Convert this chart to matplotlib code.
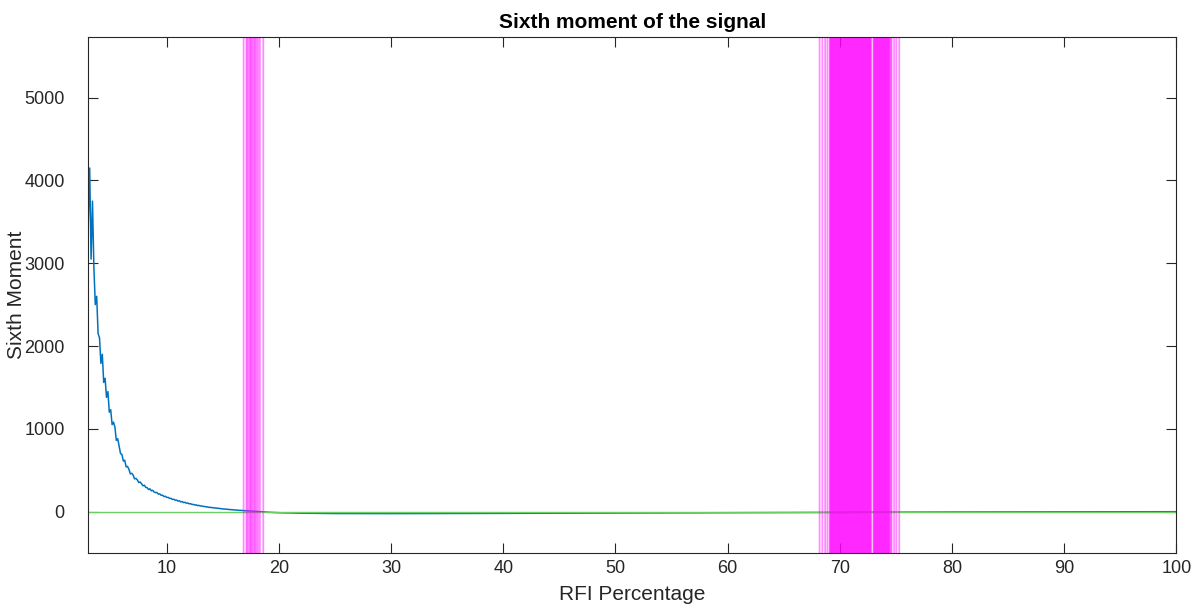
import numpy as np
import matplotlib
matplotlib.use("Agg")
import matplotlib.pyplot as plt

plt.rcParams['font.family'] = ['Liberation Sans', 'DejaVu Sans']

# RFI percentage grid for the steep part of the curve (step 0.125)
rfi_head = np.arange(3.0, 18.0001, 0.125)
moment_head = [
    3500, 4150, 3050, 3750, 2950, 2500, 2600, 2150, 2100, 1790,
    1900, 1560, 1610, 1380, 1450, 1200, 1230, 1050, 1080, 1020,
    860, 880, 790, 700, 690, 610, 620, 540, 545, 510,
    455, 462, 440, 395, 400, 382, 350, 358, 336, 311,
    318, 292, 288, 266, 274, 250, 256, 236, 229, 230,
    210, 213, 196, 198, 181, 184, 170, 171, 158, 160,
    146, 149, 137, 138, 126, 130, 116, 121, 108, 112,
    100, 104, 93, 95, 85, 87, 78, 81, 72, 74,
    67, 68, 61, 62, 55, 57, 50, 52, 46, 48,
    42, 44, 38, 40, 35, 35, 31, 31, 28, 28,
    25, 25, 22, 22, 19, 19, 17, 16, 14, 14,
    12, 11, 10, 9, 8, 7, 6, 5, 4, 3,
    2,
]

# flat tail, slightly below zero
rfi_tail = [18.5, 19, 20, 22, 25, 30, 35, 40, 50, 60, 70, 80, 90, 100]
moment_tail = [-3, -8, -14, -20, -24, -25, -24, -22, -18, -13, -9, -6, -4, -2]

threshold = 0

# RFI percentages flagged as outliers
flagged_low = [16.85, 17.10, 17.18, 17.30, 17.42, 17.50, 17.60, 17.72,
               17.82, 17.90, 18.02, 18.15, 18.30, 18.60]
flagged_high = [
    68.20, 68.45, 68.70, 68.90,
    69.10, 69.15, 69.20, 69.25, 69.30, 69.35, 69.40, 69.45, 69.50, 69.55,
    69.60, 69.65, 69.70, 69.75, 69.80, 69.85, 69.90, 69.95, 70.00, 70.05,
    70.10, 70.15, 70.20, 70.25, 70.30, 70.35, 70.40, 70.45, 70.50, 70.55,
    70.60, 70.65, 70.70, 70.75, 70.80, 70.85, 70.90, 70.95, 71.00, 71.05,
    71.10, 71.15, 71.20, 71.25, 71.30, 71.35, 71.40, 71.45, 71.50, 71.55,
    71.60, 71.65, 71.70, 71.75, 71.80, 71.85, 71.90, 71.95, 72.00, 72.05,
    72.10, 72.15, 72.20, 72.25, 72.30, 72.35, 72.40, 72.45, 72.50, 72.55,
    72.60, 72.65, 72.70, 72.75, 72.80,
    73.00, 73.05, 73.10, 73.15, 73.20, 73.25, 73.30, 73.35, 73.40, 73.45,
    73.50, 73.55, 73.60, 73.65, 73.70, 73.75, 73.80, 73.85, 73.90, 73.95,
    74.00, 74.05, 74.10, 74.15, 74.20, 74.25, 74.30, 74.35, 74.40, 74.45,
    74.55, 74.62, 74.85, 75.05, 75.30,
]

x = np.concatenate([rfi_head, rfi_tail])
y = np.concatenate([moment_head, moment_tail])

fig = plt.figure(figsize=(12.01, 6.13), dpi=100)
ax = fig.add_axes([0.0735, 0.098, 0.9059, 0.8412])

ax.plot(x, y, color='#0072BD', linewidth=1.1)
ax.axhline(threshold, color='#6ACF62', linewidth=1.0)
for p in flagged_low + flagged_high:
    ax.axvline(p, color='#FF00FF', linewidth=1.3, alpha=0.45, snap=False)

ax.set_xlim(3, 100)
ax.set_ylim(-500, 5730)
ax.set_xticks(range(10, 101, 10))
ax.set_yticks(range(0, 5001, 1000))

edge = '#262626'
for s in ax.spines.values():
    s.set_color(edge)
    s.set_linewidth(0.8)
ax.tick_params(direction='in', length=7, width=0.8, colors=edge,
               labelsize=13, top=True, right=True)
ax.tick_params(axis='x', pad=5)
ax.tick_params(axis='y', pad=17)

ax.set_title('Sixth moment of the signal', fontsize=15, fontweight='bold',
             color='black', pad=7)
ax.set_xlabel('RFI Percentage', fontsize=15, color=edge, labelpad=6)
ax.set_ylabel('Sixth Moment', fontsize=15, color=edge)
ax.yaxis.set_label_coords(-0.057, 0.5)

fig.savefig('out.png', dpi=100)
